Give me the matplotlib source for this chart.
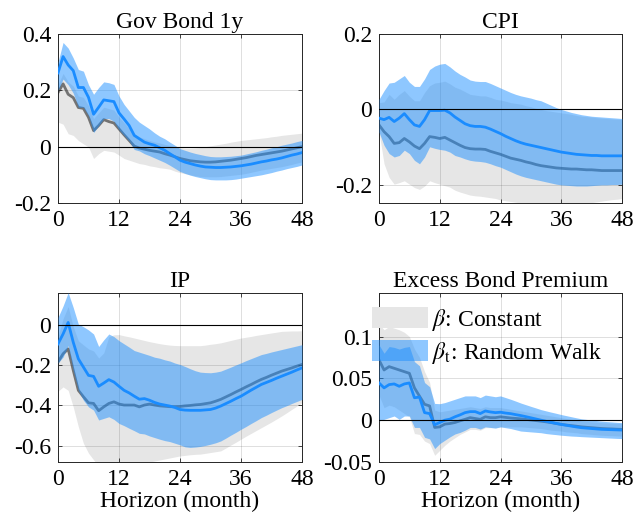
"""Impulse responses: constant beta vs random-walk beta_t (2x2 panels)."""
import matplotlib
matplotlib.use('Agg')
import matplotlib.pyplot as plt
import numpy as np

plt.rcParams['font.family'] = ['Liberation Serif', 'DejaVu Serif']
plt.rcParams['mathtext.fontset'] = 'stix'
plt.rcParams['axes.unicode_minus'] = False

horizon = list(range(49))

# --- Gov Bond 1y ---
bond_c = [0.192, 0.223, 0.186, 0.174, 0.139, 0.136, 0.104, 0.057, 0.075, 0.096, 0.089, 0.084, 0.063,
          0.042, 0.022, 0.002, -0.005, -0.009, -0.013, -0.016, -0.019, -0.025, -0.030, -0.036, -0.042,
          -0.046, -0.050, -0.052, -0.054, -0.055, -0.055, -0.054, -0.052, -0.050, -0.048, -0.045, -0.042,
          -0.039, -0.035, -0.031, -0.028, -0.025, -0.022, -0.019, -0.016, -0.012, -0.008, -0.004, 0.000]
bond_c_hi = [0.220, 0.260, 0.230, 0.215, 0.180, 0.175, 0.145, 0.100, 0.120, 0.140, 0.135, 0.130, 0.105,
             0.085, 0.065, 0.045, 0.035, 0.028, 0.022, 0.017, 0.013, 0.008, 0.004, 0.000, -0.004,
             -0.006, -0.006, -0.005, -0.003, 0.000, 0.003, 0.006, 0.009, 0.012, 0.016, 0.019, 0.022,
             0.024, 0.026, 0.028, 0.030, 0.032, 0.035, 0.037, 0.040, 0.042, 0.044, 0.046, 0.048]
bond_c_lo = [0.087, 0.080, 0.046, 0.040, 0.022, 0.010, -0.001, -0.042, -0.025, -0.013, -0.016, -0.019, -0.030,
             -0.042, -0.048, -0.054, -0.060, -0.063, -0.068, -0.071, -0.075, -0.077, -0.080, -0.087, -0.092,
             -0.096, -0.100, -0.103, -0.106, -0.107, -0.107, -0.107, -0.106, -0.104, -0.102, -0.100, -0.098,
             -0.095, -0.091, -0.087, -0.083, -0.080, -0.077, -0.074, -0.071, -0.067, -0.063, -0.058, -0.054]
bond_rw = [0.262, 0.320, 0.290, 0.270, 0.210, 0.210, 0.175, 0.115, 0.140, 0.166, 0.163, 0.160, 0.120,
           0.098, 0.075, 0.040, 0.028, 0.016, 0.010, 0.005, -0.004, -0.013, -0.025, -0.036, -0.048,
           -0.055, -0.060, -0.065, -0.069, -0.072, -0.073, -0.074, -0.074, -0.073, -0.072, -0.070, -0.068,
           -0.065, -0.062, -0.058, -0.054, -0.051, -0.047, -0.044, -0.040, -0.035, -0.030, -0.026, -0.021]
bond_rw_hi = [0.300, 0.370, 0.350, 0.315, 0.274, 0.268, 0.220, 0.186, 0.210, 0.230, 0.227, 0.221, 0.180,
              0.150, 0.127, 0.104, 0.087, 0.075, 0.063, 0.049, 0.037, 0.028, 0.016, 0.005, -0.007,
              -0.013, -0.019, -0.024, -0.028, -0.032, -0.035, -0.036, -0.036, -0.035, -0.034, -0.032, -0.030,
              -0.026, -0.022, -0.018, -0.013, -0.009, -0.004, 0.000, 0.005, 0.009, 0.013, 0.018, 0.022]
bond_rw_lo = [0.200, 0.240, 0.220, 0.190, 0.140, 0.140, 0.110, 0.050, 0.075, 0.100, 0.100, 0.090, 0.060,
              0.040, 0.020, -0.010, -0.015, -0.025, -0.032, -0.040, -0.048, -0.056, -0.066, -0.077, -0.088,
              -0.095, -0.101, -0.106, -0.110, -0.114, -0.117, -0.118, -0.118, -0.118, -0.117, -0.115, -0.112,
              -0.109, -0.106, -0.103, -0.100, -0.096, -0.092, -0.087, -0.083, -0.078, -0.074, -0.070, -0.065]

# --- CPI ---
cpi_c = [-0.041, -0.059, -0.072, -0.090, -0.088, -0.077, -0.086, -0.097, -0.104, -0.090, -0.072, -0.074, -0.077,
         -0.074, -0.081, -0.088, -0.095, -0.101, -0.104, -0.105, -0.105, -0.106, -0.111, -0.115, -0.119,
         -0.124, -0.129, -0.132, -0.135, -0.139, -0.142, -0.146, -0.149, -0.151, -0.153, -0.155, -0.156,
         -0.157, -0.158, -0.158, -0.159, -0.160, -0.160, -0.161, -0.162, -0.162, -0.162, -0.162, -0.162]
cpi_c_hi = [0.018, 0.020, 0.040, 0.027, 0.040, 0.050, 0.035, 0.023, 0.023, 0.045, 0.063, 0.070, 0.072,
            0.075, 0.068, 0.059, 0.054, 0.047, 0.040, 0.038, 0.036, 0.036, 0.032, 0.027, 0.025,
            0.022, 0.018, 0.016, 0.014, 0.010, 0.007, 0.003, 0.000, -0.003, -0.005, -0.007, -0.009,
            -0.011, -0.013, -0.016, -0.018, -0.019, -0.020, -0.022, -0.023, -0.024, -0.025, -0.026, -0.027]
cpi_c_lo = [-0.060, -0.144, -0.180, -0.198, -0.194, -0.189, -0.198, -0.207, -0.212, -0.203, -0.189, -0.194, -0.198,
            -0.202, -0.206, -0.214, -0.219, -0.223, -0.227, -0.229, -0.230, -0.232, -0.234, -0.236, -0.240,
            -0.242, -0.244, -0.246, -0.248, -0.249, -0.250, -0.251, -0.252, -0.253, -0.254, -0.254, -0.254,
            -0.253, -0.252, -0.251, -0.250, -0.249, -0.247, -0.245, -0.243, -0.241, -0.239, -0.238, -0.236]
cpi_rw = [-0.023, -0.027, -0.021, -0.032, -0.023, -0.011, -0.027, -0.041, -0.045, -0.027, -0.003, -0.003, -0.003,
          -0.002, -0.009, -0.020, -0.029, -0.038, -0.043, -0.045, -0.045, -0.047, -0.052, -0.058, -0.064,
          -0.071, -0.077, -0.083, -0.088, -0.092, -0.095, -0.098, -0.101, -0.104, -0.107, -0.110, -0.113,
          -0.115, -0.117, -0.119, -0.120, -0.121, -0.122, -0.122, -0.123, -0.123, -0.123, -0.123, -0.123]
cpi_rw_hi = [0.027, 0.050, 0.070, 0.072, 0.081, 0.090, 0.072, 0.061, 0.061, 0.081, 0.106, 0.115, 0.120,
             0.122, 0.113, 0.102, 0.093, 0.086, 0.078, 0.075, 0.074, 0.074, 0.069, 0.063, 0.057,
             0.051, 0.045, 0.040, 0.036, 0.033, 0.030, 0.026, 0.023, 0.017, 0.011, 0.005, 0.000,
             -0.004, -0.008, -0.011, -0.014, -0.016, -0.018, -0.019, -0.020, -0.021, -0.022, -0.023, -0.024]
cpi_rw_lo = [-0.060, -0.095, -0.117, -0.126, -0.122, -0.108, -0.117, -0.135, -0.144, -0.126, -0.099, -0.103, -0.106,
             -0.108, -0.113, -0.122, -0.126, -0.131, -0.135, -0.137, -0.138, -0.140, -0.144, -0.149, -0.153,
             -0.159, -0.165, -0.171, -0.176, -0.180, -0.183, -0.186, -0.189, -0.192, -0.195, -0.198, -0.200,
             -0.201, -0.202, -0.203, -0.203, -0.203, -0.202, -0.201, -0.200, -0.200, -0.199, -0.199, -0.198]

# --- IP ---
ip_c = [-0.185, -0.144, -0.120, -0.226, -0.325, -0.357, -0.387, -0.390, -0.426, -0.407, -0.390, -0.382, -0.393,
        -0.398, -0.398, -0.398, -0.407, -0.398, -0.393, -0.398, -0.402, -0.404, -0.406, -0.406, -0.405,
        -0.402, -0.400, -0.397, -0.395, -0.391, -0.387, -0.379, -0.370, -0.358, -0.346, -0.333, -0.321,
        -0.308, -0.296, -0.283, -0.271, -0.261, -0.250, -0.240, -0.230, -0.222, -0.214, -0.205, -0.197]
ip_c_hi = [-0.060, 0.030, 0.090, -0.010, -0.080, -0.100, -0.120, -0.130, -0.165, -0.140, -0.060, -0.050, -0.049,
           -0.055, -0.060, -0.066, -0.072, -0.078, -0.084, -0.089, -0.094, -0.098, -0.101, -0.103, -0.104,
           -0.104, -0.104, -0.104, -0.104, -0.101, -0.097, -0.094, -0.090, -0.084, -0.078, -0.072, -0.066,
           -0.062, -0.058, -0.053, -0.049, -0.045, -0.041, -0.037, -0.033, -0.032, -0.031, -0.031, -0.030]
ip_c_lo = [-0.330, -0.308, -0.325, -0.407, -0.505, -0.587, -0.636, -0.669, -0.700, -0.700, -0.695, -0.700, -0.700,
           -0.700, -0.700, -0.690, -0.690, -0.685, -0.680, -0.675, -0.670, -0.665, -0.660, -0.655, -0.650,
           -0.647, -0.644, -0.642, -0.641, -0.637, -0.633, -0.629, -0.625, -0.611, -0.596, -0.582, -0.567,
           -0.552, -0.538, -0.524, -0.510, -0.496, -0.482, -0.467, -0.452, -0.436, -0.419, -0.403, -0.386]
ip_rw = [-0.095, -0.046, 0.011, -0.087, -0.169, -0.210, -0.251, -0.256, -0.305, -0.289, -0.272, -0.284, -0.305,
         -0.325, -0.338, -0.354, -0.369, -0.366, -0.374, -0.385, -0.393, -0.398, -0.403, -0.410, -0.420,
         -0.423, -0.424, -0.424, -0.424, -0.422, -0.420, -0.413, -0.403, -0.391, -0.379, -0.366, -0.354,
         -0.339, -0.324, -0.310, -0.296, -0.286, -0.276, -0.265, -0.255, -0.245, -0.235, -0.224, -0.214]
ip_rw_hi = [0.036, 0.093, 0.159, 0.085, 0.003, -0.010, -0.026, -0.046, -0.108, -0.075, -0.046, -0.059, -0.079,
            -0.095, -0.111, -0.128, -0.136, -0.144, -0.152, -0.161, -0.166, -0.174, -0.180, -0.190, -0.197,
            -0.207, -0.218, -0.228, -0.235, -0.237, -0.238, -0.235, -0.230, -0.220, -0.210, -0.199, -0.189,
            -0.178, -0.168, -0.158, -0.148, -0.142, -0.135, -0.129, -0.123, -0.117, -0.111, -0.105, -0.099]
ip_rw_lo = [-0.190, -0.160, -0.103, -0.226, -0.325, -0.374, -0.407, -0.423, -0.472, -0.464, -0.456, -0.469, -0.489,
            -0.500, -0.513, -0.525, -0.538, -0.541, -0.551, -0.559, -0.567, -0.574, -0.579, -0.587, -0.595,
            -0.605, -0.608, -0.606, -0.603, -0.598, -0.592, -0.585, -0.576, -0.562, -0.547, -0.533, -0.518,
            -0.504, -0.489, -0.475, -0.460, -0.448, -0.435, -0.423, -0.411, -0.401, -0.390, -0.380, -0.370]

# --- Excess Bond Premium ---
ebp_c = [0.072, 0.060, 0.064, 0.062, 0.060, 0.058, 0.056, 0.0386, 0.0287, 0.019, 0.017, -0.0087, -0.008,
         -0.0047, -0.004, -0.0028, -0.0008, 0.001, 0.003, 0.002, 0.001, 0.004, 0.003, 0.003, 0.004,
         0.0033, 0.0026, 0.0021, 0.0016, 0.0009, 0.0002, -0.0005, -0.0012, -0.002, -0.0029, -0.004, -0.005,
         -0.0058, -0.0065, -0.0072, -0.008, -0.0085, -0.009, -0.0095, -0.010, -0.0103, -0.0105, -0.0108, -0.011]
ebp_c_hi = [0.115, 0.108, 0.112, 0.110, 0.108, 0.105, 0.100, 0.085, 0.075, 0.058, 0.045, 0.012, 0.010,
            0.011, 0.012, 0.013, 0.014, 0.015, 0.016, 0.015, 0.014, 0.016, 0.015, 0.015, 0.015,
            0.014, 0.013, 0.012, 0.011, 0.010, 0.009, 0.008, 0.007, 0.006, 0.005, 0.004, 0.003,
            0.002, 0.001, 0.000, -0.001, -0.0015, -0.002, -0.0025, -0.003, -0.0033, -0.0035, -0.0038, -0.004]
ebp_c_lo = [0.030, 0.015, 0.018, 0.016, 0.012, 0.008, 0.004, -0.016, -0.017, -0.025, -0.028, -0.042, -0.036,
            -0.030, -0.025, -0.021, -0.017, -0.014, -0.011, -0.011, -0.012, -0.009, -0.009, -0.009, -0.008,
            -0.008, -0.008, -0.008, -0.008, -0.0085, -0.009, -0.0095, -0.010, -0.011, -0.012, -0.0125, -0.013,
            -0.014, -0.0145, -0.015, -0.016, -0.0165, -0.017, -0.0175, -0.018, -0.0183, -0.0185, -0.0188, -0.019]
ebp_rw = [0.0445, 0.0386, 0.0425, 0.0433, 0.0405, 0.0433, 0.0445, 0.0268, 0.0276, 0.009, 0.0079, -0.0055, -0.0028,
          0.000, 0.0012, 0.004, 0.0063, 0.009, 0.0102, 0.0102, 0.0079, 0.011, 0.0098, 0.009, 0.0095,
          0.0085, 0.0078, 0.0066, 0.0055, 0.0042, 0.0028, 0.0014, 0.000, -0.0013, -0.0026, -0.0039, -0.0051,
          -0.0061, -0.0071, -0.0081, -0.009, -0.0095, -0.010, -0.0105, -0.011, -0.0112, -0.0114, -0.0116, -0.0118]
ebp_rw_hi = [0.090, 0.080, 0.088, 0.087, 0.085, 0.087, 0.088, 0.070, 0.065, 0.045, 0.040, 0.020, 0.0197,
             0.021, 0.023, 0.025, 0.027, 0.029, 0.029, 0.029, 0.027, 0.030, 0.029, 0.028, 0.029,
             0.027, 0.025, 0.0228, 0.0205, 0.0185, 0.0165, 0.0146, 0.0126, 0.0111, 0.0096, 0.0082, 0.0067,
             0.0054, 0.0041, 0.0028, 0.0016, 0.0009, 0.0002, -0.0005, -0.0012, -0.0017, -0.0021, -0.0026, -0.003]
ebp_rw_lo = [-0.001, 0.001, 0.003, 0.005, 0.001, 0.005, 0.005, -0.0087, -0.0087, -0.0205, -0.0224, -0.034, -0.028,
             -0.024, -0.020, -0.0165, -0.0146, -0.012, -0.0087, -0.0087, -0.0106, -0.008, -0.0087, -0.0095, -0.008,
             -0.009, -0.010, -0.0115, -0.013, -0.0135, -0.014, -0.0145, -0.015, -0.016, -0.0167, -0.0173, -0.018,
             -0.0185, -0.019, -0.0193, -0.0197, -0.020, -0.0203, -0.0206, -0.0209, -0.0212, -0.0215, -0.0218, -0.022]

titles = ['Gov Bond 1y', 'CPI', 'IP', 'Excess Bond Premium']
ylims = [(-0.2, 0.4), (-0.248, 0.2), (-0.68, 0.157), (-0.05, 0.152)]
yticks = [[-0.2, 0, 0.2, 0.4], [-0.2, 0, 0.2], [-0.6, -0.4, -0.2, 0], [-0.05, 0, 0.05, 0.1]]
xticks = [0, 12, 24, 36, 48]

GREY_FILL = (0.9, 0.9, 0.9)
GREY_LINE = (0.45, 0.45, 0.45)
BLUE = (0.118, 0.565, 1.0)
BLUE_LINE = (0.1, 0.55, 1.0)
FS = 17

W, H = 638, 529
# axes rectangles in pixels: left, top, right, bottom
boxes = [(58, 34, 302, 203), (379, 34, 622, 203), (58, 293, 302, 462), (379, 293, 622, 462)]

panels = [
    (bond_c, bond_c_lo, bond_c_hi, bond_rw, bond_rw_lo, bond_rw_hi),
    (cpi_c, cpi_c_lo, cpi_c_hi, cpi_rw, cpi_rw_lo, cpi_rw_hi),
    (ip_c, ip_c_lo, ip_c_hi, ip_rw, ip_rw_lo, ip_rw_hi),
    (ebp_c, ebp_c_lo, ebp_c_hi, ebp_rw, ebp_rw_lo, ebp_rw_hi),
]


def fmt(v):
    return '%g' % v


fig = plt.figure(figsize=(W / 100, H / 100), dpi=100)
for i, (data, title) in enumerate(zip(panels, titles)):
    l, t, r, b = boxes[i]
    ax = fig.add_axes([l / W, 1 - b / H, (r - l) / W, (b - t) / H])
    c, c_lo, c_hi, rw, rw_lo, rw_hi = data
    fc = ax.fill_between(horizon, c_lo, c_hi, color=GREY_FILL, lw=0, zorder=1)
    ax.plot(horizon, c, color=GREY_LINE, lw=2.0, zorder=2)
    fb = ax.fill_between(horizon, rw_lo, rw_hi, color=BLUE, alpha=0.5, lw=0, zorder=3)
    ax.plot(horizon, rw, color=BLUE_LINE, lw=2.0, zorder=4)
    ax.axhline(0, color='black', lw=0.8, zorder=5)

    ax.set_xlim(0, 48)
    ax.set_ylim(*ylims[i])
    ax.set_xticks(xticks)
    ax.set_xticklabels([str(x) for x in xticks])
    ax.set_yticks(yticks[i])
    ax.set_yticklabels([fmt(v) for v in yticks[i]])
    ax.grid(True, color=(0.15, 0.15, 0.15), alpha=0.15, lw=0.7)
    ax.set_axisbelow(False)
    ax.tick_params(direction='in', length=3, width=0.6, top=True, right=True,
                   labelsize=FS, colors=(0.15, 0.15, 0.15), pad=5)
    for lab in ax.get_xticklabels() + ax.get_yticklabels():
        lab.set_color('black')
    for sp in ax.spines.values():
        sp.set_color((0.15, 0.15, 0.15))
        sp.set_linewidth(0.7)
    ax.set_title(title, fontsize=FS, pad=4)
    if i >= 2:
        ax.set_xlabel('Horizon (month)', fontsize=FS, labelpad=1)
    if i == 3:
        ax.legend([fc, fb], [r'$\beta$: Constant', r'$\beta_\mathrm{t}$: Random Walk'],
                  loc='upper left', bbox_to_anchor=(-0.03, 0.92), frameon=False,
                  fontsize=FS, handlelength=2.4, handleheight=1.0, handletextpad=0.15,
                  labelspacing=0.3, borderpad=0, borderaxespad=0)

fig.savefig('out.png', dpi=100)
